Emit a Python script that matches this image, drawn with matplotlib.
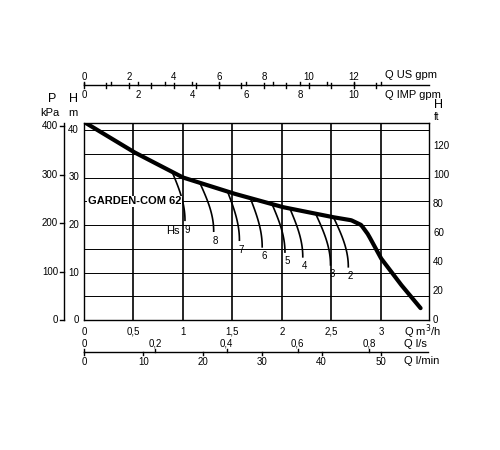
import matplotlib
matplotlib.use("Agg")
import matplotlib.pyplot as plt
import numpy as np

# main curve (Q m3/h, H m)
q_main = [0, 0.5, 1.0, 1.5, 2.0, 2.5, 2.7, 2.8, 2.87, 3.0, 3.2, 3.4]
h_main = [41.7, 35.4, 30.0, 26.7, 23.8, 21.7, 21.0, 20.0, 18.0, 13.0, 7.5, 2.5]
# suction-lift branch curves
hs_labels = ["9", "8", "7", "6", "5", "4", "3", "2"]
hs_q_start = [0.89, 1.17, 1.45, 1.68, 1.90, 2.08, 2.34, 2.52]
hs_q_end = [1.02, 1.31, 1.57, 1.80, 2.03, 2.21, 2.49, 2.67]
hs_h_end = [21.0, 18.7, 16.8, 15.4, 14.3, 13.3, 11.6, 11.2]

W, Hpx = 500, 450
fig = plt.figure(figsize=(5, 4.5), dpi=100)
plt.rcParams['font.family'] = ['Liberation Sans', 'DejaVu Sans']
def fx(x): return x / W
def fy(y): return 1 - y / Hpx

X0, X1, Y0, Y1 = 84, 429, 320, 123
ax = fig.add_axes([fx(X0), fy(Y0), fx(X1) - fx(X0), fy(Y1) - fy(Y0)])
xmax = 3.485
ymax = (Y0 - Y1) / 4.75
ax.set_xlim(0, xmax); ax.set_ylim(0, ymax)
for v in np.arange(0.5, 3.5, 0.5):
    ax.axvline(v, color='black', lw=1.2)
for v in np.arange(5, 41, 5):
    ax.axhline(v, color='black', lw=0.7)
ax.set_xticks([]); ax.set_yticks([])
for s in ax.spines.values(): s.set_linewidth(1.0)

qi = np.linspace(0, 3.4, 300)
hi = np.interp(qi, q_main, h_main)
ax.plot(qi, hi, color='black', lw=3, solid_capstyle='round')
for lab, qs, qe, he in zip(hs_labels, hs_q_start, hs_q_end, hs_h_end):
    hs0 = np.interp(qs, q_main, h_main)
    t = np.linspace(0, 1, 30)
    qq = qs + (qe - qs) * np.sin(t * np.pi / 2)
    hh = hs0 + (he - hs0) * t
    ax.plot(qq, hh, color='black', lw=1.2)
    ax.text(qe + 0.02, he - 2.6, lab, fontsize=7, ha='center')
ax.text(0.90, 18.2, "Hs", fontsize=8, ha='center')
ax.text(0.04, 25, "GARDEN-COM 62", fontsize=8, fontweight='bold', va='center',
        bbox=dict(facecolor='white', edgecolor='none', pad=0.5))

# left H ticks
for v in range(0, 41, 10):
    y = Y0 - v * 4.75
    fig.text(fx(79), fy(y), str(v), fontsize=7, ha='right', va='center')
# kPa axis
fig.add_artist(plt.Line2D([fx(64), fx(64)], [fy(320), fy(123)], color='black', lw=1))
for v in range(0, 401, 100):
    y = Y0 - v / 9.81 * 4.75
    fig.add_artist(plt.Line2D([fx(60), fx(64)], [fy(y), fy(y)], color='black', lw=1))
    fig.text(fx(58), fy(y), str(v), fontsize=7, ha='right', va='center')
fig.text(fx(52), fy(102), "P", fontsize=9, ha='center')
fig.text(fx(50), fy(116), "kPa", fontsize=8, ha='center')
fig.text(fx(73), fy(102), "H", fontsize=9, ha='center')
fig.text(fx(73), fy(116), "m", fontsize=8, ha='center')
# right ft
for v in range(0, 121, 20):
    y = Y0 - v * 0.3048 * 4.75
    fig.text(fx(433), fy(y), str(v), fontsize=7, ha='left', va='center')
fig.text(fx(434), fy(108), "H", fontsize=9)
fig.text(fx(434), fy(120), "ft", fontsize=7)

def xpix(q): return X0 + q / xmax * (X1 - X0)

# top axis
fig.add_artist(plt.Line2D([fx(X0), fx(X1)], [fy(85), fy(85)], color='black', lw=1))
for v in range(0, 14):
    x = xpix(v / 4.403)
    fig.add_artist(plt.Line2D([fx(x), fx(x)], [fy(83), fy(88)], color='black', lw=1))
    if v % 2 == 0:
        fig.text(fx(x), fy(77), str(v), fontsize=7, ha='center', va='center')
for v in range(0, 12):
    x = xpix(v / 3.666)
    fig.add_artist(plt.Line2D([fx(x), fx(x)], [fy(82), fy(85)], color='black', lw=1))
    if v % 2 == 0:
        fig.text(fx(x), fy(95), str(v), fontsize=7, ha='center', va='center')
fig.text(fx(385), fy(75), "Q US gpm", fontsize=8, va='center')
fig.text(fx(385), fy(95), "Q IMP gpm", fontsize=8, va='center')

# bottom
for v, s in zip(np.arange(0, 3.01, 0.5), ["0", "0,5", "1", "1,5", "2", "2,5", "3"]):
    fig.text(fx(xpix(v)), fy(332), s, fontsize=7, ha='center', va='center')
fig.text(fx(404), fy(332), "Q m$^3$/h", fontsize=8, va='center')
for v in [0, 0.2, 0.4, 0.6, 0.8]:
    fig.text(fx(xpix(v * 3.6)), fy(344), ("%g" % v).replace('.', ','), fontsize=7, ha='center', va='center')
    fig.add_artist(plt.Line2D([fx(xpix(v * 3.6))] * 2, [fy(349), fy(352)], color='black', lw=1))
fig.text(fx(404), fy(344), "Q l/s", fontsize=8, va='center')
fig.add_artist(plt.Line2D([fx(X0), fx(428)], [fy(352), fy(352)], color='black', lw=1))
for v in range(0, 51, 10):
    x = xpix(v * 0.06)
    fig.add_artist(plt.Line2D([fx(x), fx(x)], [fy(352), fy(355)], color='black', lw=1))
    fig.text(fx(x), fy(362), str(v), fontsize=7, ha='center', va='center')
fig.text(fx(404), fy(361), "Q l/min", fontsize=8, va='center')

fig.savefig("out.png", dpi=100)
